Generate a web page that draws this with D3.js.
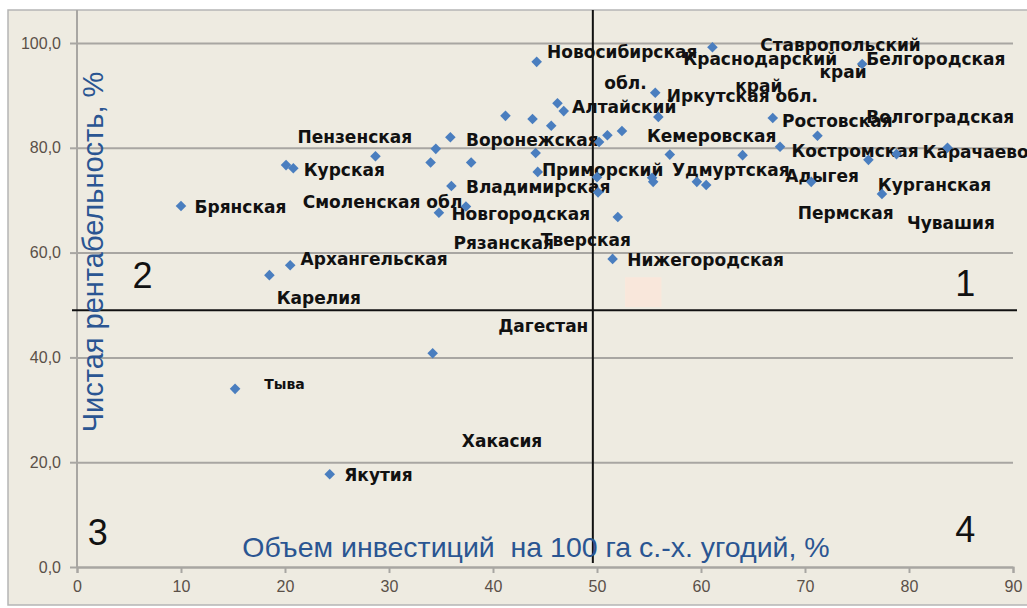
<!DOCTYPE html>
<html>
<head>
<meta charset="utf-8">
<script src="https://cdn.jsdelivr.net/npm/d3@7.9.0/dist/d3.min.js"></script>
<style>
  body { margin: 0; background: #fff; }
  svg { display: block; }
  .tick text { font-family: 'Liberation Sans', Arial, sans-serif; font-size: 16px; fill: #5a5048; }
  .lbl { font-family: 'DejaVu Sans', Verdana, sans-serif; font-weight: bold; font-size: 17px; fill: #111; }
</style>
</head>
<body>
<div id="chart"></div>
<script>
// investment per 100 ha (x) and net profitability (y), one entry per region dot
const investment = [10.0, 20.1, 20.8, 28.7, 34.5, 35.9, 34.0, 37.9, 41.2, 43.8,
  45.6, 46.2, 46.8, 44.2, 44.1, 44.3, 36.0, 34.8, 37.4, 50.2,
  51.0, 52.4, 50.0, 50.1, 52.0, 51.5, 55.6, 55.9, 57.0, 55.4,
  55.3, 59.6, 60.5, 61.1, 64.0, 66.9, 67.6, 71.2, 70.6, 76.1,
  78.8, 83.7, 77.4, 75.5, 20.5, 18.5, 15.2, 24.3, 34.2];
const profitability = [68.9, 76.7, 76.1, 78.4, 79.8, 82.0, 77.2, 77.2, 86.1, 85.5,
  84.2, 88.5, 87.0, 96.4, 79.0, 75.4, 72.7, 67.6, 68.8, 81.1,
  82.4, 83.2, 74.4, 71.5, 66.8, 58.8, 90.5, 85.9, 78.7, 73.5,
  74.3, 73.5, 72.9, 99.2, 78.6, 85.7, 80.2, 82.3, 73.5, 77.7,
  78.8, 80.0, 71.2, 96.0, 57.6, 55.7, 34.0, 17.7, 40.8];

// region labels: text, x value, y value (left edge, middle of text)
const labelText = ['Новосибирская', 'обл.', 'Алтайский', 'Иркутская обл.', 'Краснодарский', 'край',
  'Ставропольский', 'край', 'Белгородская', 'Ростовская', 'Волгоградская', 'Кемеровская',
  'Костромская', 'Карачаево', 'Приморский', 'Удмуртская', 'Адыгея', 'Курганская',
  'Пермская', 'Чувашия', 'Пензенская', 'Воронежская', 'Курская', 'Смоленская обл',
  'Владимирская', 'Новгородская', 'Рязанская', 'Тверская', 'Нижегородская', 'Брянская',
  'Архангельская', 'Карелия', 'Дагестан', 'Тыва', 'Хакасия', 'Якутия'];
const labelX = [45.2, 50.7, 47.6, 56.7, 58.3, 63.3, 65.7, 71.4, 75.9, 67.8, 75.9, 54.8,
  68.7, 81.3, 44.7, 57.2, 68.1, 77.0, 69.3, 79.8, 21.2, 37.4, 21.8, 21.7,
  37.4, 36.0, 36.2, 44.6, 52.9, 11.3, 21.5, 19.2, 40.5, 18.0, 37.0, 25.7];
const labelY = [98.3, 92.4, 87.8, 89.9, 96.9, 91.8, 99.6, 94.5, 96.9, 85.1, 85.9, 82.3,
  79.4, 79.2, 75.8, 75.8, 74.6, 72.9, 67.6, 65.6, 82.1, 81.5, 75.8, 69.7,
  72.5, 67.4, 61.8, 62.4, 58.6, 68.7, 58.8, 51.3, 46.0, 34.9, 24.0, 17.6];

const quadNames = ['1', '2', '3', '4'];
const quadX = [85.4, 6.3, 2.0, 85.4];
const quadY = [51.7, 53.2, 4.2, 4.8];

const splitX = 49.6;
const splitY = 49.0;

const xTicks = d3.range(0, 91, 10);
const yTicks = d3.range(0, 101, 20);

const width = 1027;
const height = 608;

const svg = d3.select('#chart').append('svg')
  .attr('width', width).attr('height', height);

// chart area background + border
svg.append('rect').attr('x', 8).attr('y', 10).attr('width', width).attr('height', 595)
  .attr('fill', '#eeebe1').attr('stroke', '#b5b5b5').attr('stroke-width', 1.5);

const x = d3.scaleLinear().domain([0, 90]).range([77, 1013]);
const y = d3.scaleLinear().domain([0, 100]).range([567, 43]);

// pale highlight left over on the original
svg.append('rect')
  .attr('x', x(52.7)).attr('y', y(55.3))
  .attr('width', x(56.2) - x(52.7)).attr('height', y(49.6) - y(55.3))
  .attr('fill', '#fbe6da').attr('opacity', 0.8);

// gridlines
const grid = svg.append('g').attr('transform', `translate(${x(0)},0)`)
  .call(d3.axisLeft(y).tickValues(yTicks).tickFormat('').tickSize(-(x(90) - x(0))).tickSizeOuter(0));
grid.select('.domain').remove();
grid.selectAll('line').attr('stroke', '#a8a6a2').attr('stroke-width', 2);

// y axis
const yAxis = svg.append('g').attr('transform', `translate(${x(0)},0)`)
  .call(d3.axisLeft(y).tickValues(yTicks).tickSize(7).tickPadding(9)
    .tickFormat(d => d3.format('.1f')(d).replace('.', ',')));
yAxis.select('.domain').remove();
yAxis.selectAll('line').attr('stroke', '#a8a6a2').attr('stroke-width', 2);
svg.append('line').attr('x1', x(0)).attr('x2', x(0)).attr('y1', 10).attr('y2', y(0))
  .attr('stroke', '#a8a6a2').attr('stroke-width', 2);

// x axis
const xAxis = svg.append('g').attr('transform', `translate(0,${y(0)})`)
  .call(d3.axisBottom(x).tickValues(xTicks).tickSize(6).tickPadding(8));
xAxis.select('.domain').attr('stroke', '#a8a6a2').attr('stroke-width', 2);
xAxis.selectAll('line').attr('stroke', '#a8a6a2').attr('stroke-width', 2);

// quadrant lines
svg.append('line').attr('x1', x(splitX)).attr('x2', x(splitX)).attr('y1', 10).attr('y2', 563)
  .attr('stroke', '#111').attr('stroke-width', 2);
svg.append('line').attr('x1', 72).attr('x2', 1017).attr('y1', y(splitY)).attr('y2', y(splitY))
  .attr('stroke', '#111').attr('stroke-width', 2);

// quadrant numbers
svg.append('g').selectAll('text').data(quadNames).join('text')
  .attr('x', (d, i) => x(quadX[i])).attr('y', (d, i) => y(quadY[i]))
  .attr('text-anchor', 'middle')
  .style('font-family', "'Liberation Sans', Arial, sans-serif")
  .style('font-size', '36px').attr('fill', '#111')
  .text(d => d);

// axis titles
svg.append('text')
  .attr('x', 536).attr('y', 557).attr('text-anchor', 'middle')
  .style('font-family', "'Liberation Sans', Arial, sans-serif")
  .style('font-size', '28.5px').attr('fill', '#2a5592')
  .style('white-space', 'pre')
  .text('Объем инвестиций  на 100 га с.-х. угодий, %');
svg.append('text')
  .attr('transform', 'translate(103,252) rotate(-90)').attr('text-anchor', 'middle')
  .style('font-family', "'Liberation Sans', Arial, sans-serif")
  .style('font-size', '29px').attr('fill', '#2a5592')
  .text('Чистая рентабельность, %');

// labels
svg.append('g').selectAll('text').data(labelText).join('text')
  .attr('class', 'lbl')
  .attr('x', (d, i) => x(labelX[i])).attr('y', (d, i) => y(labelY[i]))
  .attr('dy', '0.36em')
  .style('font-size', d => d === 'Тыва' ? '14px' : null)
  .text(d => d);

// points: square turned 45 degrees
const marker = d3.symbol().type(d3.symbolSquare).size(56);
svg.append('g').selectAll('path').data(investment).join('path')
  .attr('d', marker)
  .attr('transform', (d, i) => `translate(${x(d)},${y(profitability[i])}) rotate(45)`)
  .attr('fill', '#4a7ebf');
</script>
</body>
</html>
